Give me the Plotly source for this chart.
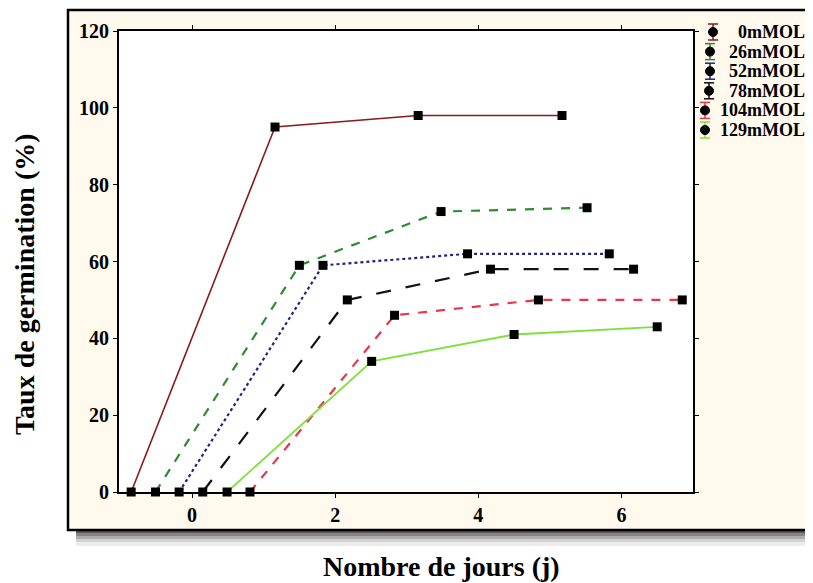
import plotly.graph_objects as go

# ---- data ----
series_names = ["0mMOL", "26mMOL", "52mMOL", "78mMOL", "104mMOL", "129mMOL"]
x_0 = [-0.85, 1.16, 3.16, 5.17]
y_0 = [0, 95, 98, 98]
x_26 = [-0.51, 1.50, 3.48, 5.52]
y_26 = [0, 59, 73, 74]
x_52 = [-0.18, 1.83, 3.85, 5.83]
y_52 = [0, 59, 62, 62]
x_78 = [0.15, 2.17, 4.17, 6.17]
y_78 = [0, 50, 58, 58]
x_104 = [0.81, 2.83, 4.84, 6.85]
y_104 = [0, 46, 50, 50]
x_129 = [0.49, 2.51, 4.50, 6.50]
y_129 = [0, 34, 41, 43]
x_ticks = [0, 2, 4, 6]
y_ticks = [0, 20, 40, 60, 80, 100, 120]

xs = [x_0, x_26, x_52, x_78, x_104, x_129]
ys = [y_0, y_26, y_52, y_78, y_104, y_129]
colors = ["#8B1A1A", "#2E8B2E", "#23237E", "#111111", "#E8364A", "#7EE03A"]
dashes = ["solid", "dash", "dot", "longdash", "dash", "solid"]
widths = [1.6, 2.2, 2.2, 2.2, 2.2, 1.8]

SERIF = "Times New Roman, Liberation Serif, serif"

# page has an 8px body margin: figure occupies screen px 8..813 x 8..583
OFF = 8
W, H = 813 - OFF, 583 - OFF

def fx(p):  # screen px -> paper x
    return (p - OFF) / W

def fy(p):  # screen px -> paper y
    return (583 - p) / H

PL, PR, PT, PB = 119, 693, 31, 492  # plot area in screen px

fig = go.Figure()

for i in range(6):
    fig.add_trace(go.Scatter(
        x=xs[i], y=ys[i], mode="lines+markers", name=series_names[i],
        line=dict(color=colors[i], width=widths[i], dash=dashes[i]),
        marker=dict(symbol="square", size=9, color="black"),
        cliponaxis=False, showlegend=False))

shapes = []
# shadow under frame
shadow = [("#5a5a5a", 530, 533), ("#858585", 533, 536), ("#adadad", 536, 539),
          ("#d2d2d2", 539, 542), ("#ededed", 542, 546)]
for c, a, b in shadow:
    shapes.append(dict(type="rect", xref="paper", yref="paper",
                       x0=fx(76), x1=fx(830), y0=fy(b), y1=fy(a),
                       fillcolor=c, line=dict(width=0), layer="below"))
# cream frame
shapes.append(dict(type="rect", xref="paper", yref="paper",
                   x0=fx(68), x1=fx(830), y0=fy(530), y1=fy(10),
                   fillcolor="#FFF9EE", line=dict(color="black", width=2.5),
                   layer="below"))
# white plot area
shapes.append(dict(type="rect", xref="paper", yref="paper",
                   x0=fx(PL), x1=fx(PR), y0=fy(PB), y1=fy(PT),
                   fillcolor="white", line=dict(width=0), layer="below"))

# custom legend (error-bar style icons + labels)
annotations = []
leg_y0, leg_step = 32, 19.6
leg_dot_x = [713, 710, 710, 709, 705, 705]
for i, name in enumerate(series_names):
    yr = leg_y0 + leg_step * i
    xd = leg_dot_x[i]
    shapes.append(dict(type="line", xref="paper", yref="paper",
                       x0=fx(xd), x1=fx(xd), y0=fy(yr + 8), y1=fy(yr - 8),
                       line=dict(color=colors[i], width=1.5)))
    for yc in (yr - 8, yr + 8):
        shapes.append(dict(type="line", xref="paper", yref="paper",
                           x0=fx(xd - 5), x1=fx(xd + 5), y0=fy(yc), y1=fy(yc),
                           line=dict(color=colors[i], width=1.5)))
    shapes.append(dict(type="circle", xref="paper", yref="paper",
                       x0=fx(xd - 4.5), x1=fx(xd + 4.5),
                       y0=fy(yr + 4.5), y1=fy(yr - 4.5),
                       fillcolor="black", line=dict(color="black", width=1)))
    annotations.append(dict(text=name, xref="paper", yref="paper",
                            x=fx(807), y=fy(yr), showarrow=False,
                            xanchor="right", yanchor="middle",
                            font=dict(family=SERIF, size=18, weight="bold")))

annotations += [
    dict(text="Nombre de jours (j)", xref="paper", yref="paper",
         x=fx(441), y=fy(566), showarrow=False,
         xanchor="center", yanchor="middle",
         font=dict(family=SERIF, size=28, weight="bold")),
    dict(text="Taux de germination (%)", xref="paper", yref="paper",
         x=fx(24), y=fy(284), showarrow=False, textangle=-90,
         xanchor="center", yanchor="middle",
         font=dict(family=SERIF, size=28, weight="bold")),
]

fig.update_layout(
    width=W, height=H,
    margin=dict(l=0, r=0, t=0, b=0, autoexpand=False),
    paper_bgcolor="white", plot_bgcolor="rgba(0,0,0,0)",
    shapes=shapes, annotations=annotations, showlegend=False,
    font=dict(family=SERIF, color="black"),
    xaxis=dict(domain=[fx(PL), fx(PR)], range=[-1.02, 7.0], tickvals=x_ticks,
               showgrid=False, zeroline=False, showline=True,
               linecolor="black", linewidth=2,
               mirror="ticks", ticks="outside", ticklen=4, tickcolor="black",
               tickfont=dict(family=SERIF, size=20, weight="bold"),
               ticklabelstandoff=0),
    yaxis=dict(domain=[fy(PB), fy(PT)], range=[0, 120], tickvals=y_ticks,
               showgrid=False, zeroline=False, showline=True,
               linecolor="black", linewidth=2,
               mirror="ticks", ticks="outside", ticklen=4, tickcolor="black",
               tickfont=dict(family=SERIF, size=20, weight="bold"),
               ticklabelstandoff=0),
)

fig.write_html("out.html")
